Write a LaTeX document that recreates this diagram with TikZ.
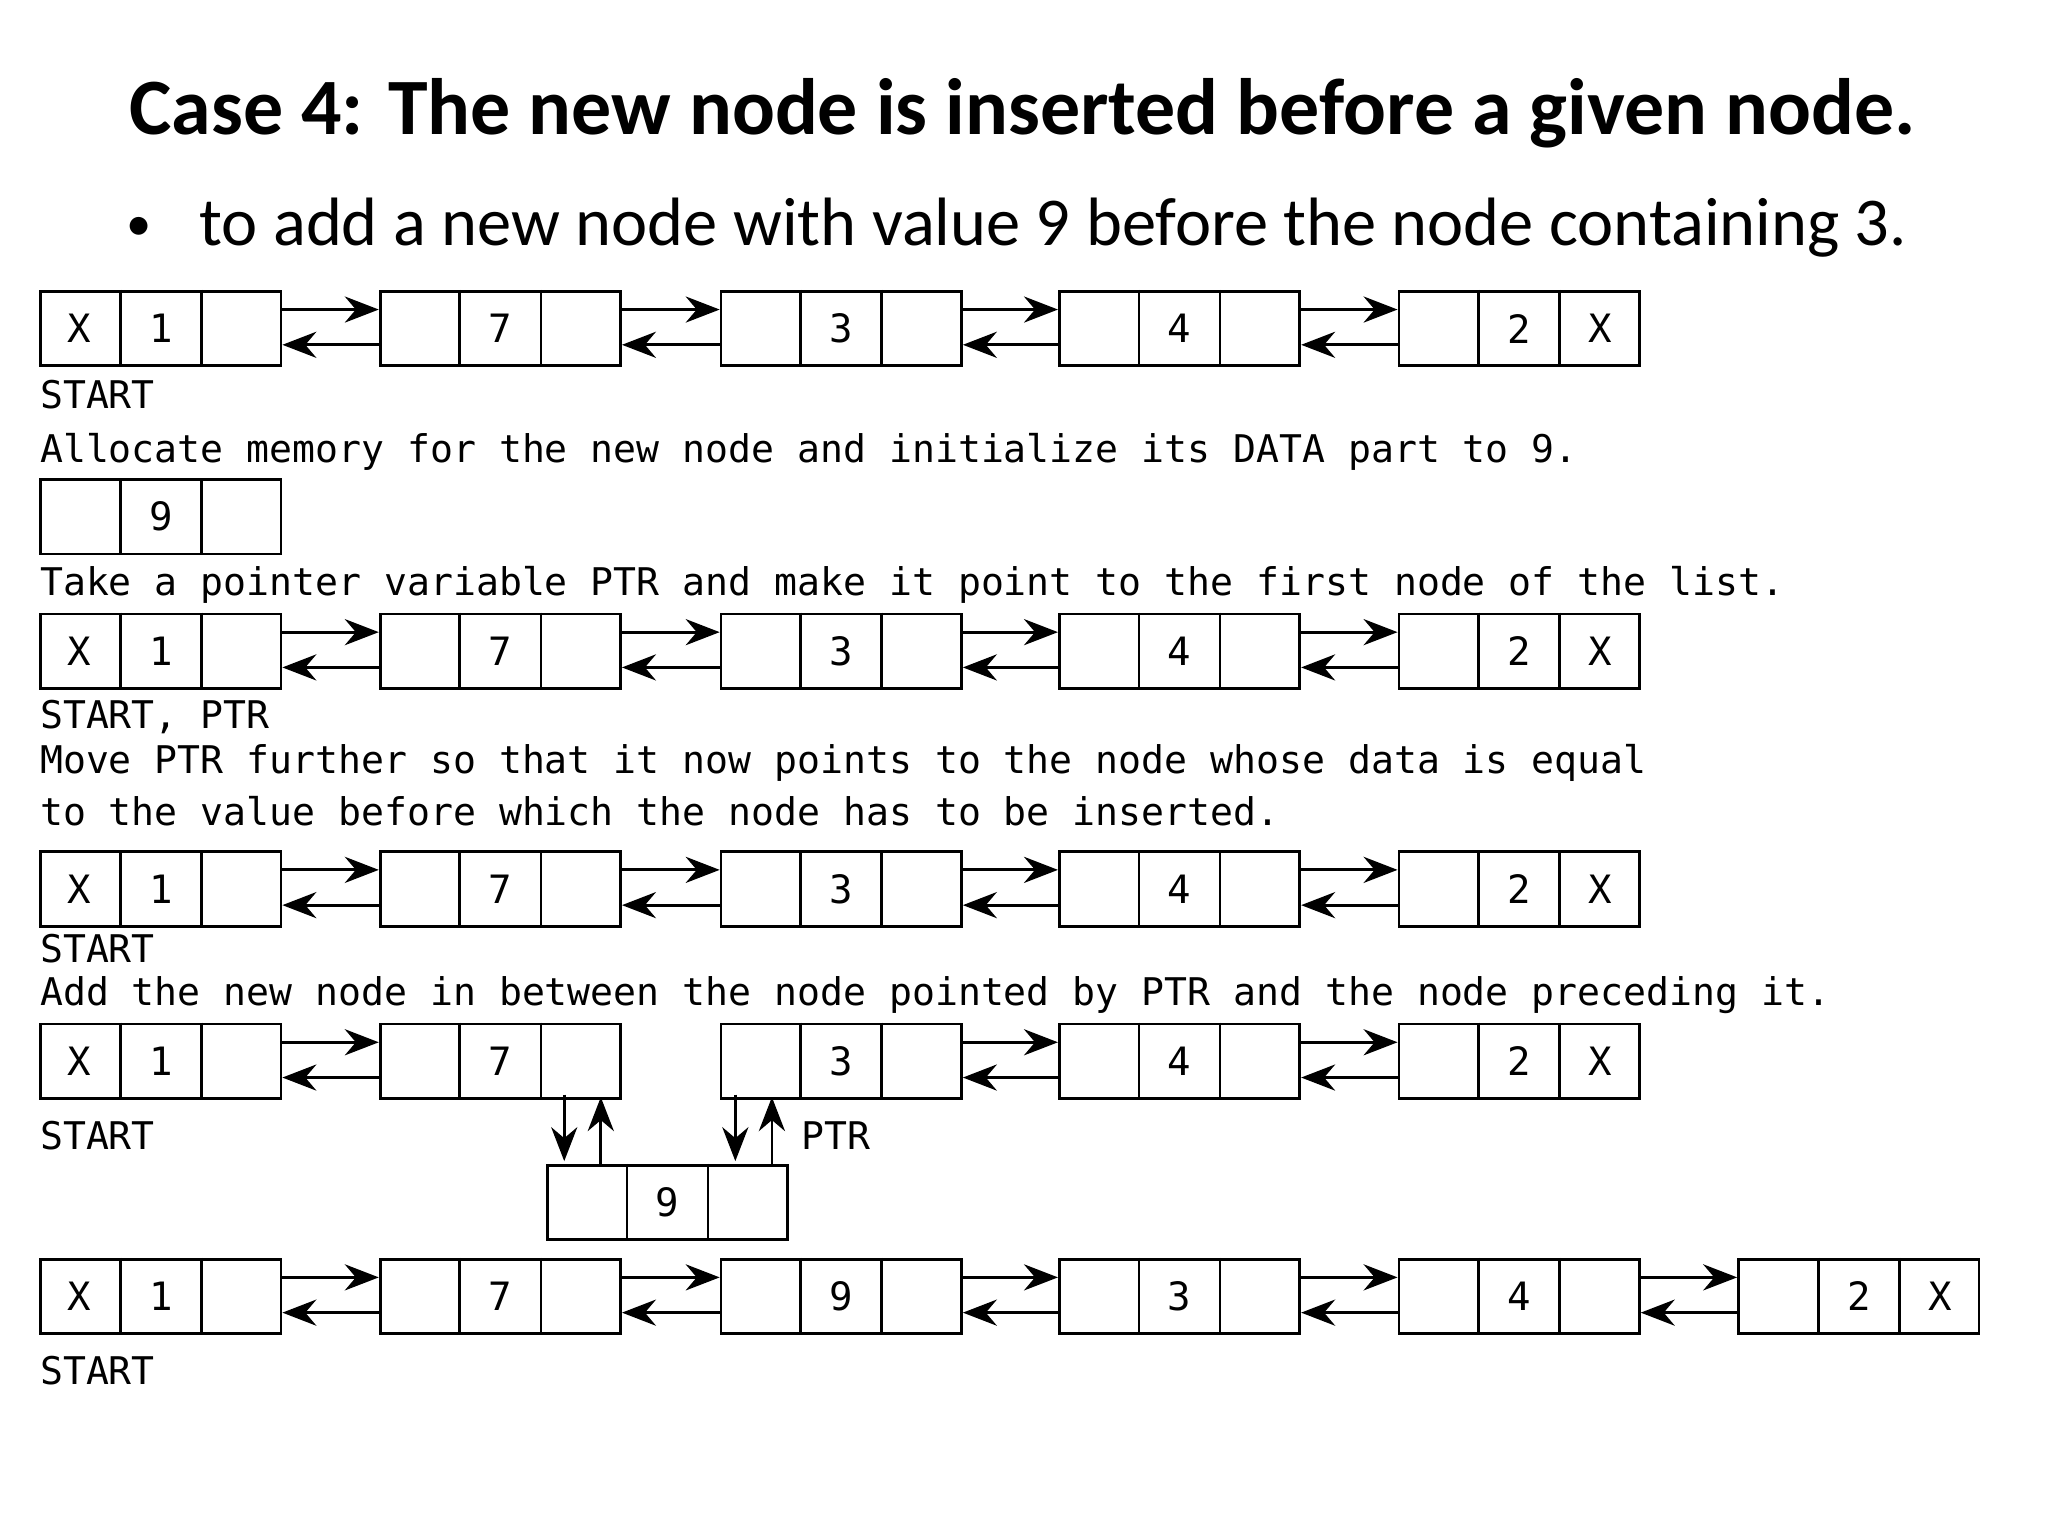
\documentclass[tikz,border=0pt]{standalone}
\usepackage{fontspec}
\setmainfont{Carlito}
\newfontfamily\monof{DejaVu Sans Mono}
\usetikzlibrary{calc,arrows.meta}
\tikzset{
 cellbox/.style={draw,line width=0.6pt,minimum width=1.84cm,minimum height=0.57cm,anchor=north west,inner sep=0},
 celltxt/.style={font=\monof\fontsize{8.5}{10}\selectfont,inner sep=0},
 mono/.style={font=\monof\fontsize{8.3}{10}\selectfont,anchor=base west,inner sep=0},
 arr/.style={line width=0.6pt,-{Stealth[length=0.26cm,width=0.2cm]}}
}
\newcommand\llnode[6]{%
 \node[cellbox] (#1) at (#2,#3) {};
 \draw[line width=0.6pt] ($(#1.north west)!1/3!(#1.north east)$) -- ($(#1.south west)!1/3!(#1.south east)$);
 \draw[line width=0.6pt] ($(#1.north west)!2/3!(#1.north east)$) -- ($(#1.south west)!2/3!(#1.south east)$);
 \node[celltxt] (#1l) at ($(#1.west)!1/6!(#1.east)$) {#4};
 \node[celltxt] (#1m) at ($(#1.west)!1/2!(#1.east)$) {#5};
 \node[celltxt] (#1r) at ($(#1.west)!5/6!(#1.east)$) {#6};}
\newcommand\lk[2]{%
 \draw[arr] ($(#1.north east)+(0,15)$) -- ($(#2.north west)+(0,15)$);
 \draw[arr] ($(#2.north west)+(0,42)$) -- ($(#1.north east)+(0,42)$);}
\newcommand\row[7]{% prefix, top, texts
 \llnode{#1a}{30}{#2}{X}{1}{}
 \llnode{#1b}{290}{#2}{}{7}{}
 \llnode{#1c}{551}{#2}{}{#3}{}
 \llnode{#1d}{810}{#2}{}{#4}{}
 \llnode{#1e}{1070}{#2}{}{#5}{#6}}
\begin{document}
\begin{tikzpicture}[x=0.01cm,y=-0.01cm]
\useasboundingbox (0,0) rectangle (1568,1176);
\node[font=\bfseries\fontsize{17.4}{20}\selectfont,anchor=base,inner sep=0] (title) at (783,103) {Case 4: The new node is inserted before a given node.};
\node[font=\fontsize{11}{14}\selectfont,anchor=base west,inner sep=0] (bul) at (96,184) {\textbullet};
\node[font=\fontsize{14.9}{18}\selectfont,anchor=base west,inner sep=0] (sub) at (152,188) {to add a new node with value 9 before the node containing 3.};
% row 1
\row{p}{222}{3}{4}{2}{X}{}
\lk{pa}{pb}\lk{pb}{pc}\lk{pc}{pd}\lk{pd}{pe}
\node[mono] (t1) at (30,313) {START};
\node[mono] (t2) at (30,354) {Allocate memory for the new node and initialize its DATA part to 9.};
\llnode{nn}{30}{366}{}{9}{}
\node[mono] (t3) at (30,456) {Take a pointer variable PTR and make it point to the first node of the list.};
% row 2
\row{q}{469}{3}{4}{2}{X}{}
\lk{qa}{qb}\lk{qb}{qc}\lk{qc}{qd}\lk{qd}{qe}
\node[mono] (t4) at (30,558) {START, PTR};
\node[mono] (t5) at (30,592) {Move PTR further so that it now points to the node whose data is equal};
\node[mono] (t6) at (30,632) {to the value before which the node has to be inserted.};
% row 3
\row{r}{651}{3}{4}{2}{X}{}
\lk{ra}{rb}\lk{rb}{rc}\lk{rc}{rd}\lk{rd}{re}
\node[mono] (t7) at (30,737) {START};
\node[mono] (t8) at (30,770) {Add the new node in between the node pointed by PTR and the node preceding it.};
% row 4
\row{s}{783}{3}{4}{2}{X}{}
\lk{sa}{sb}\lk{sc}{sd}\lk{sd}{se}
\node[mono] (t9) at (30,880) {START};
\node[mono] (t10) at (613,880) {PTR};
\llnode{nw}{418}{891}{}{9}{}
\coordinate (d1) at (432,838); \coordinate (d1e) at (432,889);
\draw[arr] (d1) -- (d1e);
\coordinate (u1) at (460,891); \coordinate (u1e) at (460,840);
\draw[arr] (u1) -- (u1e);
\coordinate (d2) at (563,838); \coordinate (d2e) at (563,889);
\draw[arr] (d2) -- (d2e);
\coordinate (u2) at (591,891); \coordinate (u2e) at (591,840);
\draw[arr] (u2) -- (u2e);
% row 5
\llnode{ua}{30}{963}{X}{1}{}
\llnode{ub}{290}{963}{}{7}{}
\llnode{uc}{551}{963}{}{9}{}
\llnode{ud}{810}{963}{}{3}{}
\llnode{ue}{1070}{963}{}{4}{}
\llnode{uf}{1330}{963}{}{2}{X}
\lk{ua}{ub}\lk{ub}{uc}\lk{uc}{ud}\lk{ud}{ue}\lk{ue}{uf}
\node[mono] (t11) at (30,1060) {START};
\end{tikzpicture}
\end{document}
